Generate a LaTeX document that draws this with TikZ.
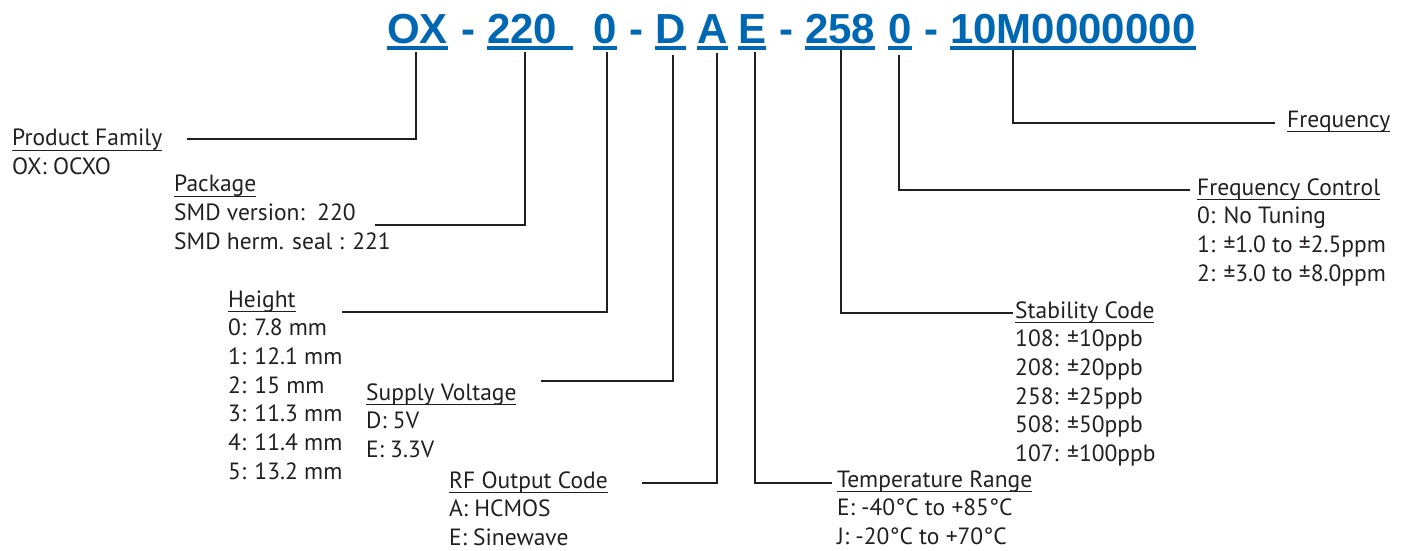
\documentclass[tikz,border=0pt]{standalone}
\usepackage{fontspec}
\setmainfont{PT Sans}
\newfontfamily\titlefont{Liberation Sans}
\definecolor{ttl}{RGB}{0,103,178}
\definecolor{ink}{RGB}{35,31,32}
\newcommand\hd[1]{\setbox0\hbox{#1}\rlap{\rule[-5.3pt]{\wd0}{1.4pt}}\box0}
\begin{document}
\begin{tikzpicture}[x=1pt,y=-1pt,
  lbl/.style={anchor=base west, inner sep=0pt, align=left, text=ink, font=\fontsize{23.5}{28.7}\selectfont},
  ttlbox/.style={anchor=base west, inner sep=0pt, text=ttl, font=\titlefont\bfseries\fontsize{42}{42}\selectfont},
  conn/.style={draw=ink, line width=2.6pt},
  tul/.style={draw=ttl, line width=4pt}]
\useasboundingbox (0,0) rectangle (1406,550);
% title pieces
\node[ttlbox] (t1) at (387,43) {OX};
\node[ttlbox] (h1) at (461,43) {-};
\node[ttlbox] (t2) at (487,43) {220};
\node[ttlbox] (t3) at (593,43) {0};
\node[ttlbox] (h2) at (629,43) {-};
\node[ttlbox] (t4) at (655,43) {D};
\node[ttlbox] (t5) at (697,43) {A};
\node[ttlbox] (t6) at (738,43) {E};
\node[ttlbox] (h3) at (779,43) {-};
\node[ttlbox] (t7) at (805,43) {258};
\node[ttlbox] (t8) at (888,43) {0};
\node[ttlbox] (h4) at (924,43) {-};
\node[ttlbox] (t9) at (950,43) {10M0000000};
\foreach \t in {t1,t3,t4,t5,t6,t7,t8,t9}
  \draw[tul] ([yshift=-5pt]\t.base west) -- ([yshift=-5pt]\t.base east);
\draw[tul] ([yshift=-5pt]t2.base west) -- ([yshift=-5pt,xshift=16pt]t2.base east);
% labels (anchor = baseline of the last line)
\node[lbl] (pf) at (12,{145.7+1*28.7}) {\hd{Product Family}\\OX: OCXO};
\node[lbl] (pk) at (174,{191.7+2*28.7}) {\hd{Package}\\SMD version:\ \ 220\\SMD herm. seal : 221};
\node[lbl] (ht) at (228,{307+6*28.7}) {\hd{Height}\\0: 7.8 mm\\1: 12.1 mm\\2: 15 mm\\3: 11.3 mm\\4: 11.4 mm\\5: 13.2 mm};
\node[lbl] (sv) at (366,{400+2*28.7}) {\hd{Supply Voltage}\\D: 5V\\E: 3.3V};
\node[lbl] (rf) at (449,{488+2*28.7}) {\hd{RF Output Code}\\A: HCMOS\\E: Sinewave};
\node[lbl] (tr) at (837,{487+2*28.7}) {\hd{Temperature Range}\\E: -40°C to +85°C\\J: -20°C to +70°C};
\node[lbl] (sc) at (1015,{318+5*28.7}) {\hd{Stability Code}\\108: ±10ppb\\208: ±20ppb\\258: ±25ppb\\508: ±50ppb\\107: ±100ppb};
\node[lbl] (fc) at (1197,{195+3*28.7}) {\hd{Frequency Control}\\0: No Tuning\\1: ±1.0 to ±2.5ppm\\2: ±3.0 to ±8.0ppm};
\node[lbl] (fq) at (1287,127) {\hd{Frequency}};
% connector coordinates
\coordinate (s1) at (416,52);  \coordinate (e1) at (187,139);
\coordinate (s2) at (525,52);  \coordinate (e2) at (375,225);
\coordinate (s3) at (607,52);  \coordinate (e3) at (342,312);
\coordinate (s4) at (673,55);  \coordinate (e4) at (541,381);
\coordinate (s5) at (717,53);  \coordinate (e5) at (642,483);
\coordinate (s6) at (755,52);  \coordinate (e6) at (832,483);
\coordinate (s7) at (841,50);  \coordinate (e7) at (1013,313);
\coordinate (s8) at (899,55);  \coordinate (e8) at (1190,190);
\coordinate (s9) at (1013,50); \coordinate (e9) at (1275,123);
\foreach \i in {1,...,9} \draw[conn] (s\i) |- (e\i);
\end{tikzpicture}
\end{document}
